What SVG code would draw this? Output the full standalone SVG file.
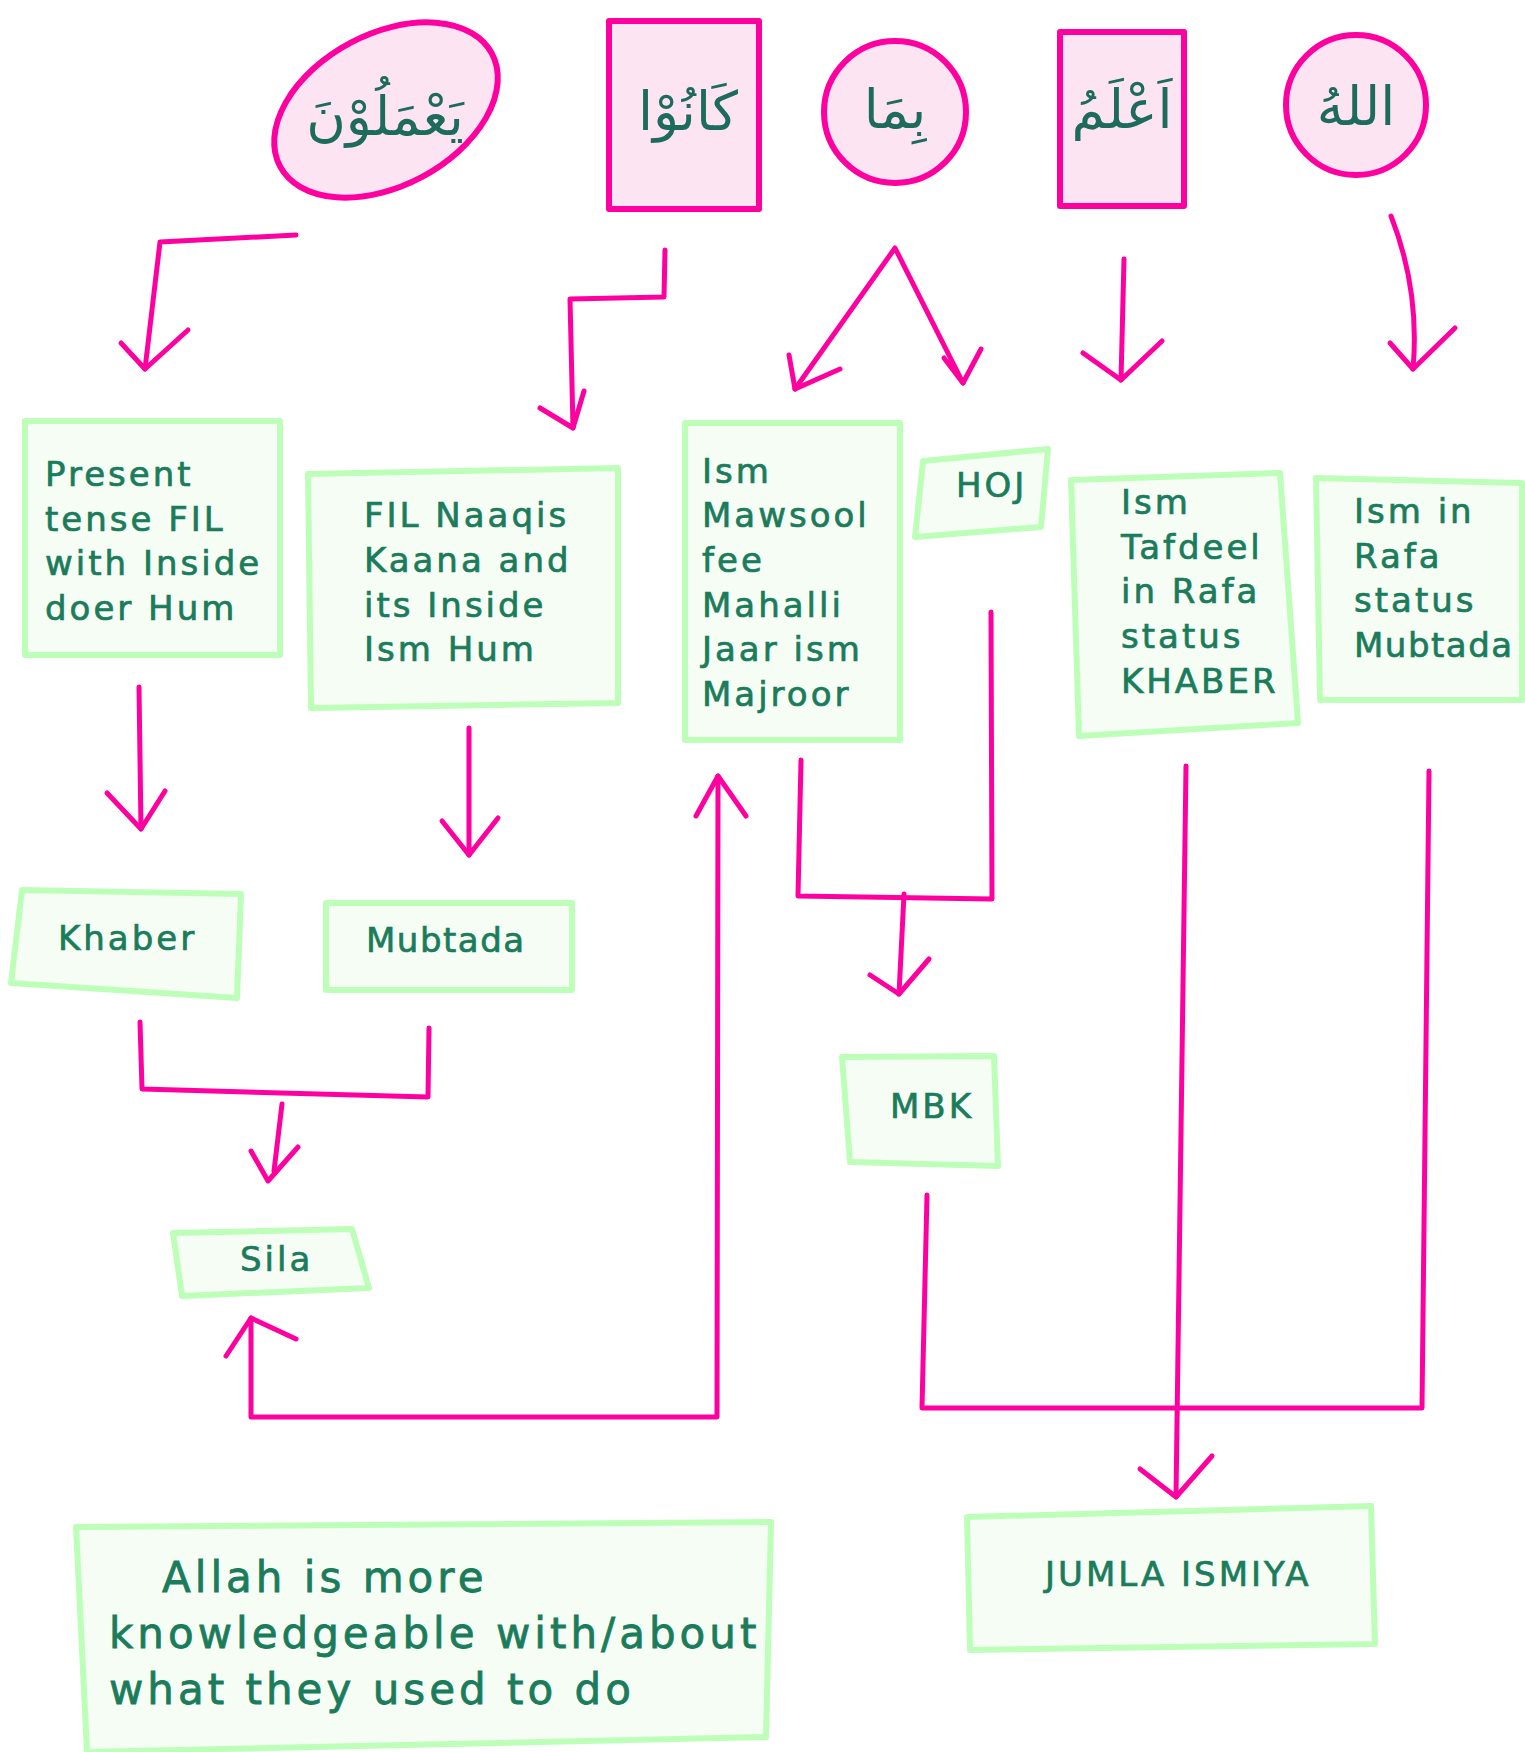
<svg xmlns="http://www.w3.org/2000/svg" width="1525" height="1752" viewBox="0 0 1525 1752">
<style>
.pk{fill:#fde4f2;stroke:#ff00a0;stroke-width:6;stroke-linejoin:round}
.gb{fill:#f6fdf5;stroke:#bdffb9;stroke-width:6;stroke-linejoin:round}
.ar{fill:none;stroke:#ff00a0;stroke-width:5;stroke-linecap:round;stroke-linejoin:round}
.ab{font-family:"DejaVu Sans",sans-serif;font-size:54px;fill:#1d6b5c;text-anchor:middle}
.t{font-family:"DejaVu Sans",sans-serif;font-size:34px;fill:#1a7c5b;stroke:#1a7c5b;stroke-width:0.7;letter-spacing:3px}
.n{letter-spacing:1.5px}
.tb{font-family:"DejaVu Sans",sans-serif;font-size:42px;fill:#1a7c5b;stroke:#1a7c5b;stroke-width:0.8;letter-spacing:4px}
</style>
<rect width="1525" height="1752" fill="#ffffff"/>

<g id="n-yamaloon">
<ellipse class="pk" cx="386" cy="110" rx="120" ry="76" transform="rotate(-28 386 110)"/>
<text class="ab" x="385" y="135">يَعْمَلُوْنَ</text>
</g>
<g id="n-kaanoo">
<rect class="pk" x="609" y="21" width="150" height="188"/>
<text class="ab" x="688" y="130">كَانُوْا</text>
</g>
<g id="n-bimaa">
<ellipse class="pk" cx="895" cy="112" rx="71" ry="71"/>
<text class="ab" x="895" y="128">بِمَا</text>
</g>
<g id="n-alam">
<rect class="pk" x="1060" y="32" width="124" height="174"/>
<text class="ab" x="1122" y="128">اَعْلَمُ</text>
</g>
<g id="n-allah">
<ellipse class="pk" cx="1356" cy="105" rx="70" ry="70"/>
<text class="ab" x="1356" y="125">اللهُ</text>
</g>

<g id="n-present">
<rect class="gb" x="25" y="421" width="255" height="234"/>
<text class="t" x="45" y="486">Present</text>
<text class="t" x="45" y="531">tense FIL</text>
<text class="t" x="45" y="575">with Inside</text>
<text class="t" x="45" y="620">doer Hum</text>
</g>
<g id="n-filnaaqis">
<polygon class="gb" points="308,474 618,468 618,703 311,708"/>
<text class="t" x="364" y="527">FIL Naaqis</text>
<text class="t" x="364" y="572">Kaana and</text>
<text class="t" x="364" y="617">its Inside</text>
<text class="t" x="364" y="661">Ism Hum</text>
</g>
<g id="n-mawsool">
<rect class="gb" x="685" y="423" width="215" height="317"/>
<text class="t" x="702" y="483">Ism</text>
<text class="t" x="702" y="527">Mawsool</text>
<text class="t" x="702" y="572">fee</text>
<text class="t" x="702" y="617">Mahalli</text>
<text class="t" x="702" y="661">Jaar ism</text>
<text class="t" x="702" y="706">Majroor</text>
</g>
<g id="n-hoj">
<polygon class="gb" points="923,461 1048,449 1041,527 915,537"/>
<text class="t" x="956" y="497">HOJ</text>
</g>
<g id="n-tafdeel">
<polygon class="gb" points="1071,480 1280,473 1298,723 1079,736"/>
<text class="t" x="1121" y="514">Ism</text>
<text class="t" x="1121" y="559">Tafdeel</text>
<text class="t" x="1121" y="603">in Rafa</text>
<text class="t" x="1121" y="648">status</text>
<text class="t" x="1121" y="693">KHABER</text>
</g>
<g id="n-ismrafa">
<polygon class="gb" points="1316,478 1522,483 1522,700 1320,700"/>
<text class="t" x="1354" y="523">Ism in</text>
<text class="t" x="1354" y="568">Rafa</text>
<text class="t" x="1354" y="612">status</text>
<text class="t n" x="1354" y="657">Mubtada</text>
</g>

<g id="n-khaber">
<polygon class="gb" points="22,890 241,894 237,998 11,983"/>
<text class="t" x="58" y="950">Khaber</text>
</g>
<g id="n-mubtada">
<rect class="gb" x="326" y="903" width="246" height="87"/>
<text class="t n" x="366" y="952">Mubtada</text>
</g>
<g id="n-sila">
<polygon class="gb" points="173,1233 352,1229 369,1288 182,1296"/>
<text class="t" x="240" y="1271">Sila</text>
</g>
<g id="n-mbk">
<polygon class="gb" points="842,1057 994,1056 998,1166 850,1162"/>
<text class="t" x="890" y="1118">MBK</text>
</g>
<g id="n-jumla">
<polygon class="gb" points="967,1517 1371,1506 1375,1644 970,1650"/>
<text class="t" x="1045" y="1586">JUMLA ISMIYA</text>
</g>
<g id="n-translation">
<polygon class="gb" points="76,1527 771,1522 766,1737 87,1752"/>
<text class="tb" x="162" y="1592">Allah is more</text>
<text class="tb" x="109" y="1648">knowledgeable with/about</text>
<text class="tb" x="109" y="1704">what they used to do</text>
</g>

<g id="connectors">
<path class="ar" d="M296,235 L160,242 L145,369"/>
<path class="ar" d="M121,343 L145,369 L188,330"/>
<path class="ar" d="M665,250 L664,297 L570,299 L573,428"/>
<path class="ar" d="M540,408 L573,428 L584,391"/>
<path class="ar" d="M795,389 L895,248 L963,383"/>
<path class="ar" d="M789,355 L795,389 L840,369"/>
<path class="ar" d="M944,358 L963,383 L981,349"/>
<path class="ar" d="M1124,259 L1121,380"/>
<path class="ar" d="M1083,353 L1121,380 L1162,341"/>
<path class="ar" d="M1391,216 Q1420,290 1413,369"/>
<path class="ar" d="M1390,343 L1413,369 L1455,328"/>
<path class="ar" d="M139,687 L141,829"/>
<path class="ar" d="M107,793 L141,829 L165,791"/>
<path class="ar" d="M469,728 L469,855"/>
<path class="ar" d="M442,821 L469,855 L498,818"/>
<path class="ar" d="M140,1022 L142,1089 L428,1097 L429,1028"/>
<path class="ar" d="M282,1104 L274,1171"/>
<path class="ar" d="M251,1151 L268,1181 L298,1147"/>
<path class="ar" d="M801,760 L798,896 L992,899 L991,612"/>
<path class="ar" d="M904,894 L899,994"/>
<path class="ar" d="M870,975 L899,994 L929,959"/>
<path class="ar" d="M251,1318 L251,1417 L717,1417 L718,776"/>
<path class="ar" d="M226,1356 L251,1318 L296,1339"/>
<path class="ar" d="M696,816 L718,776 L746,816"/>
<path class="ar" d="M927,1195 L922,1408 L1422,1408 L1429,771"/>
<path class="ar" d="M1186,766 L1176,1497"/>
<path class="ar" d="M1140,1469 L1176,1497 L1212,1456"/>
</g>
</svg>
